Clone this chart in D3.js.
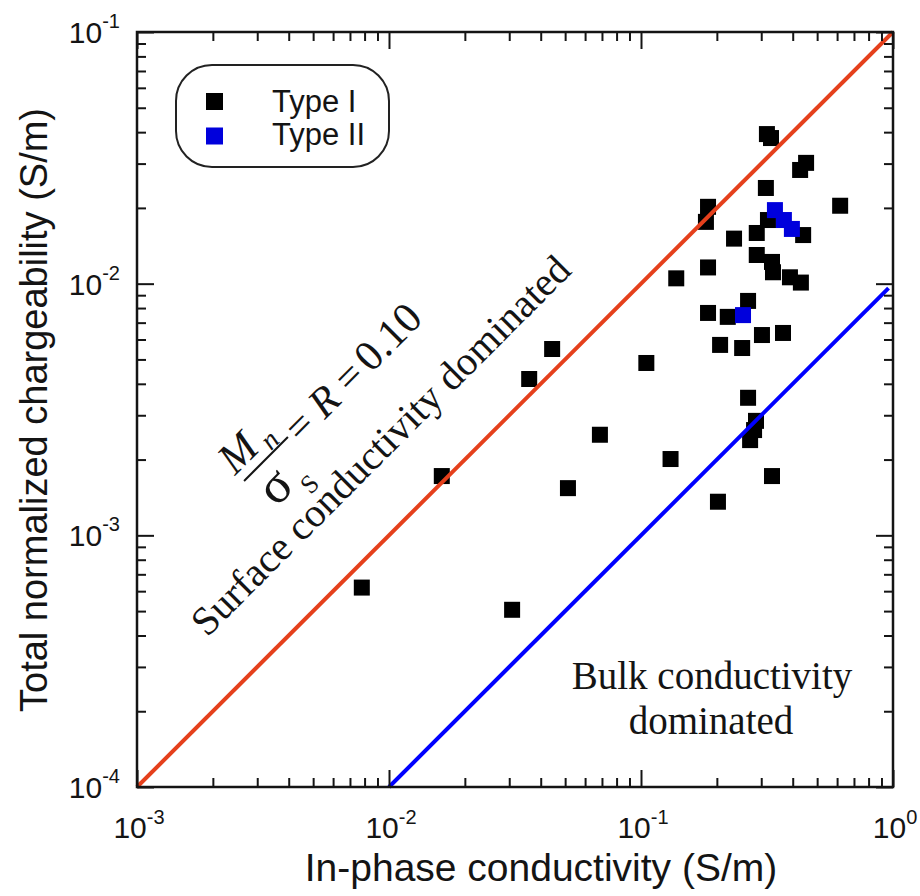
<!DOCTYPE html>
<html>
<head>
<meta charset="utf-8">
<script src="https://cdn.jsdelivr.net/npm/d3@7"></script>
<style>
  html, body { margin: 0; padding: 0; background: #fff; }
  svg { display: block; }
</style>
</head>
<body>
<svg id="chart" width="920" height="896"></svg>
<script>
// ---- data ----
const typeIX = [0.0078, 0.0162, 0.036, 0.0444, 0.0308, 0.0513, 0.0687, 0.105, 0.131, 0.138,
  0.1845, 0.181, 0.1845, 0.1845, 0.202, 0.206, 0.221, 0.234, 0.252, 0.266, 0.266,
  0.286, 0.281, 0.271, 0.288, 0.288, 0.331, 0.334, 0.390, 0.431, 0.313, 0.316, 0.328,
  0.319, 0.302, 0.366, 0.331, 0.440, 0.428, 0.452, 0.617];
const typeIY = [6.2e-4, 1.72e-3, 4.18e-3, 5.5e-3, 5.06e-4, 1.54e-3, 2.51e-3, 4.84e-3, 2.01e-3, 1.05e-2,
  2.02e-2, 1.76e-2, 1.16e-2, 7.65e-3, 1.36e-3, 5.71e-3, 7.38e-3, 1.51e-2, 5.55e-3, 8.54e-3, 3.52e-3,
  2.85e-3, 2.62e-3, 2.39e-3, 1.59e-2, 1.30e-2, 1.22e-2, 1.11e-2, 1.06e-2, 1.01e-2, 2.40e-2, 3.93e-2, 3.79e-2,
  1.79e-2, 6.25e-3, 6.37e-3, 1.72e-3, 1.56e-2, 2.83e-2, 3.02e-2, 2.04e-2];
const typeIIX = [0.254, 0.340, 0.369, 0.397];
const typeIIY = [7.5e-3, 1.96e-2, 1.79e-2, 1.65e-2];

const surfaceLineX = [0.001, 1];      // Mn / sigma_s = R = 0.10
const surfaceLineY = [0.0001, 0.1];
const bulkLineX = [0.01, 0.96];
const bulkLineY = [0.0001, 0.0096];

const xMajor = [1e-3, 1e-2, 1e-1, 1];
const xMajorExp = ["-3", "-2", "-1", "0"];
const yMajor = [1e-4, 1e-3, 1e-2, 1e-1];
const yMajorExp = ["-4", "-3", "-2", "-1"];

const legendLabels = ["Type I", "Type II"];
const xTitle = "In-phase conductivity (S/m)";
const yTitle = "Total normalized chargeability (S/m)";

// ---- setup ----
const sans = "'Liberation Sans', Arial, Helvetica, sans-serif";
const serif = "'Liberation Serif', 'Times New Roman', serif";
const svg = d3.select("#chart");
const L = 137, R = 893, T = 32, B = 787;
const x = d3.scaleLog().domain([1e-3, 1]).range([L, R]);
const y = d3.scaleLog().domain([1e-4, 1e-1]).range([B, T]);

function minors(majors) {
  const out = [];
  for (let i = 0; i < majors.length - 1; i++)
    for (let k = 2; k <= 9; k++) out.push(majors[i] * k);
  return out;
}
const xMinor = minors(xMajor), yMinor = minors(yMajor);

const black = "#000", ink = "#141414", red = "#e5401c", blue = "#0000ff", blueSq = "#0000dc";

// ---- points ----
const sq = 16;
const ptsI = typeIX.map((v, i) => [v, typeIY[i]]);
const ptsII = typeIIX.map((v, i) => [v, typeIIY[i]]);
svg.append("g").selectAll("rect").data(ptsI).join("rect")
  .attr("x", d => x(d[0]) - sq / 2).attr("y", d => y(d[1]) - sq / 2)
  .attr("width", sq).attr("height", sq).attr("fill", black);
svg.append("g").selectAll("rect").data(ptsII).join("rect")
  .attr("x", d => x(d[0]) - sq / 2).attr("y", d => y(d[1]) - sq / 2)
  .attr("width", sq).attr("height", sq).attr("fill", blueSq);

// ---- lines ----
const line = d3.line().x(d => x(d[0])).y(d => y(d[1]));
svg.append("path").datum(surfaceLineX.map((v, i) => [v, surfaceLineY[i]]))
  .attr("d", line).attr("stroke", red).attr("stroke-width", 4).attr("fill", "none");
svg.append("path").datum(bulkLineX.map((v, i) => [v, bulkLineY[i]]))
  .attr("d", line).attr("stroke", blue).attr("stroke-width", 4).attr("fill", "none");

// ---- axes (ticks inside, mirrored) ----
function tickAxis(axisFn, scale, vals, size, transform) {
  const g = svg.append("g").attr("transform", transform)
    .call(axisFn(scale).tickValues(vals).tickSize(size).tickFormat(""));
  g.select(".domain").remove();
  g.selectAll("line").attr("stroke", ink).attr("stroke-width", 2);
}
tickAxis(d3.axisBottom, x, xMajor, -17, `translate(0,${B})`);
tickAxis(d3.axisBottom, x, xMinor, -9, `translate(0,${B})`);
tickAxis(d3.axisTop, x, xMajor, -17, `translate(0,${T})`);
tickAxis(d3.axisTop, x, xMinor, -9, `translate(0,${T})`);
tickAxis(d3.axisLeft, y, yMajor, -17, `translate(${L},0)`);
tickAxis(d3.axisLeft, y, yMinor, -9, `translate(${L},0)`);
tickAxis(d3.axisRight, y, yMajor, -17, `translate(${R},0)`);
tickAxis(d3.axisRight, y, yMinor, -9, `translate(${R},0)`);

svg.append("rect").attr("x", L).attr("y", T).attr("width", R - L).attr("height", B - T)
  .attr("fill", "none").attr("stroke", ink).attr("stroke-width", 2.5);

// ---- tick labels ----
const tickFont = 30, supFont = 20;
xMajor.forEach((v, i) => {
  const t = svg.append("text").attr("x", x(v) + 2).attr("y", 838)
    .attr("text-anchor", "middle").attr("font-family", sans).attr("font-size", tickFont).attr("fill", ink);
  t.append("tspan").text("10");
  t.append("tspan").attr("font-size", supFont).attr("dy", -14).text(xMajorExp[i]);
});
yMajor.forEach((v, i) => {
  const t = svg.append("text").attr("x", 120).attr("y", y(v) + 11)
    .attr("text-anchor", "end").attr("font-family", sans).attr("font-size", tickFont).attr("fill", ink);
  t.append("tspan").text("10");
  t.append("tspan").attr("font-size", supFont).attr("dy", -15).text(yMajorExp[i]);
});

// ---- axis titles ----
svg.append("text").attr("x", 541).attr("y", 881).attr("text-anchor", "middle")
  .attr("font-family", sans).attr("font-size", 39).attr("fill", ink).text(xTitle);
svg.append("text").attr("transform", "translate(47,410) rotate(-90)").attr("text-anchor", "middle")
  .attr("font-family", sans).attr("font-size", 38).attr("fill", ink).text(yTitle);

// ---- legend ----
svg.append("rect").attr("x", 176).attr("y", 65).attr("width", 213).attr("height", 102)
  .attr("rx", 36).attr("ry", 36).attr("fill", "#fff").attr("stroke", "#222").attr("stroke-width", 2);
[black, blueSq].forEach((c, i) => {
  svg.append("rect").attr("x", 206).attr("y", 93 + i * 34.5).attr("width", 17).attr("height", 17).attr("fill", c);
  svg.append("text").attr("x", 272).attr("y", 112 + i * 33).attr("font-family", sans)
    .attr("font-size", 31).attr("fill", ink).text(legendLabels[i]);
});

// ---- annotations ----
const ann = svg.append("g").attr("transform", "translate(266,459) rotate(-45)")
  .attr("font-family", serif).attr("fill", ink);
ann.append("text").attr("x", -34).attr("y", -10).attr("font-size", 44).attr("font-style", "italic").text("M");
ann.append("text").attr("x", 9).attr("y", -2).attr("font-size", 28).attr("font-style", "italic").text("n");
ann.append("line").attr("x1", -31).attr("x2", 31).attr("y1", 0).attr("y2", 0).attr("stroke", ink).attr("stroke-width", 2);
ann.append("text").attr("x", -13).attr("y", 42).attr("text-anchor", "middle").attr("font-size", 52).text("σ");
ann.append("text").attr("x", 13).attr("y", 57).attr("text-anchor", "middle").attr("font-size", 26).text("S");
ann.append("text").attr("x", 47).attr("y", 14).attr("text-anchor", "middle").attr("font-size", 42).text("=");
ann.append("text").attr("x", 82).attr("y", 14).attr("text-anchor", "middle").attr("font-size", 42).attr("font-style", "italic").text("R");
ann.append("text").attr("x", 117).attr("y", 14).attr("text-anchor", "middle").attr("font-size", 42).text("=");
ann.append("text").attr("x", 135).attr("y", 14).attr("font-size", 43).text("0.10");
ann.append("text").attr("x", -168).attr("y", 85).attr("font-size", 40.5).text("Surface conductivity dominated");

svg.append("text").attr("x", 712).attr("y", 689).attr("text-anchor", "middle")
  .attr("font-family", serif).attr("font-size", 39).attr("fill", ink).text("Bulk conductivity");
svg.append("text").attr("x", 711).attr("y", 734).attr("text-anchor", "middle")
  .attr("font-family", serif).attr("font-size", 39).attr("fill", ink).text("dominated");
</script>
</body>
</html>
